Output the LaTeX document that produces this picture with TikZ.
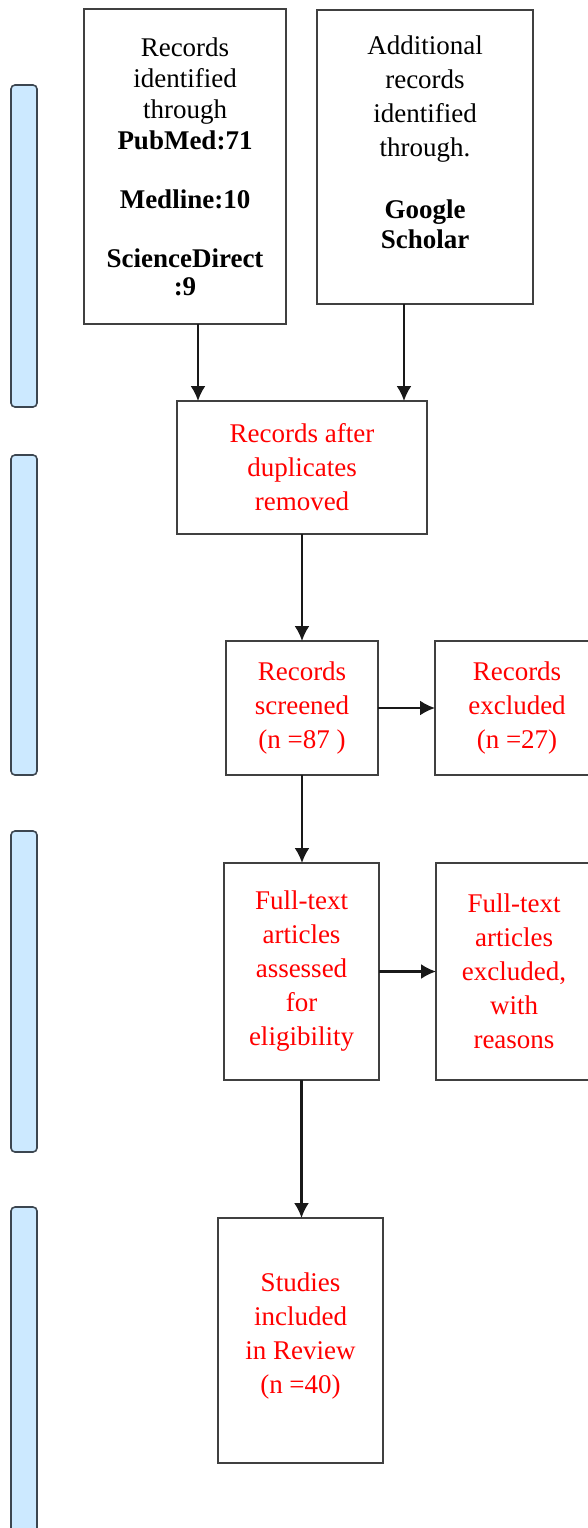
\documentclass[tikz,border=0pt]{standalone}
\usepackage{fontspec}
\setmainfont{Liberation Serif}
\usetikzlibrary{arrows.meta,positioning}
\definecolor{barblue}{RGB}{204,233,255}
\definecolor{barline}{RGB}{60,70,80}
\tikzset{
  flowbox/.style={draw=black!75, line width=2pt, fill=white, align=center,
    inner sep=0pt, outer sep=0pt, font=\fontsize{27}{34}\selectfont},
  redbox/.style={flowbox, text=red},
  phasebar/.style={draw=barline, line width=1.6pt, fill=barblue,
    rounded corners=4pt, inner sep=0pt, outer sep=0pt, minimum width=26pt},
  flowarrow/.style={line width=2.2pt, black!90, -{Latex[length=15pt,width=15pt]}},
}

\begin{document}
\begin{tikzpicture}[x=1pt,y=-1pt]
\useasboundingbox (0,0) rectangle (587,1528);

% phase bars on the left
\foreach \ytop/\ybot [count=\i] in {85/407, 455/775, 831/1152, 1207/1545}
  \node[phasebar, minimum height={\ybot pt-\ytop pt}] (bar\i) at (24,{(\ytop+\ybot)/2}) {};

% identification
\node[flowbox, minimum width=202pt, minimum height=315pt, font=\fontsize{27}{31}\selectfont] (ident) at (185,166.5)
  {Records\\identified\\through\\\textbf{PubMed:71}\\[28pt]\textbf{Medline:10}\\[28pt]\textbf{ScienceDirect}\\[-3pt]\textbf{:9}};
\node[flowbox, minimum width=216pt, minimum height=294pt] (other) at (425,157)
  {Additional\\records\\identified\\through.\\[28pt]\textbf{Google}\\[-4pt]\textbf{Scholar}\\[-4pt]\mbox{}};

% screening
\node[redbox, minimum width=250pt, minimum height=133pt] (dupl) at (302,467.5)
  {Records after\\duplicates\\removed};
\node[redbox, minimum width=152pt, minimum height=134pt] (screen) at (302,708)
  {Records\\screened\\(n =87 )};
\node[redbox, minimum width=164pt, minimum height=134pt] (excl) at (517,708)
  {Records\\excluded\\(n =27)};

% eligibility
\node[redbox, minimum width=155pt, minimum height=217pt] (full) at (301.5,971.5)
  {Full-text\\articles\\assessed\\for\\eligibility};
\node[redbox, minimum width=156pt, minimum height=217pt] (fullexcl) at (514,971.5)
  {Full-text\\articles\\excluded,\\with\\reasons};

% included
\node[redbox, minimum width=165pt, minimum height=245pt] (incl) at (300.5,1340.5)
  {Studies\\included\\in Review\\(n =40)\\[-20pt]\mbox{}};

% connectors
\draw[flowarrow] ([xshift=13pt]ident.south) -- ([xshift=13pt]ident.south |- dupl.north);
\draw[flowarrow] ([xshift=-21pt]other.south) -- ([xshift=-21pt]other.south |- dupl.north);
\draw[flowarrow] (dupl.south) -- (screen.north);
\draw[flowarrow] (screen.east) -- (excl.west);
\draw[flowarrow] (screen.south) -- (screen.south |- full.north);
\draw[flowarrow] (full.east) -- (fullexcl.west);
\draw[flowarrow] (full.south) -- (full.south |- incl.north);
\end{tikzpicture}
\end{document}
